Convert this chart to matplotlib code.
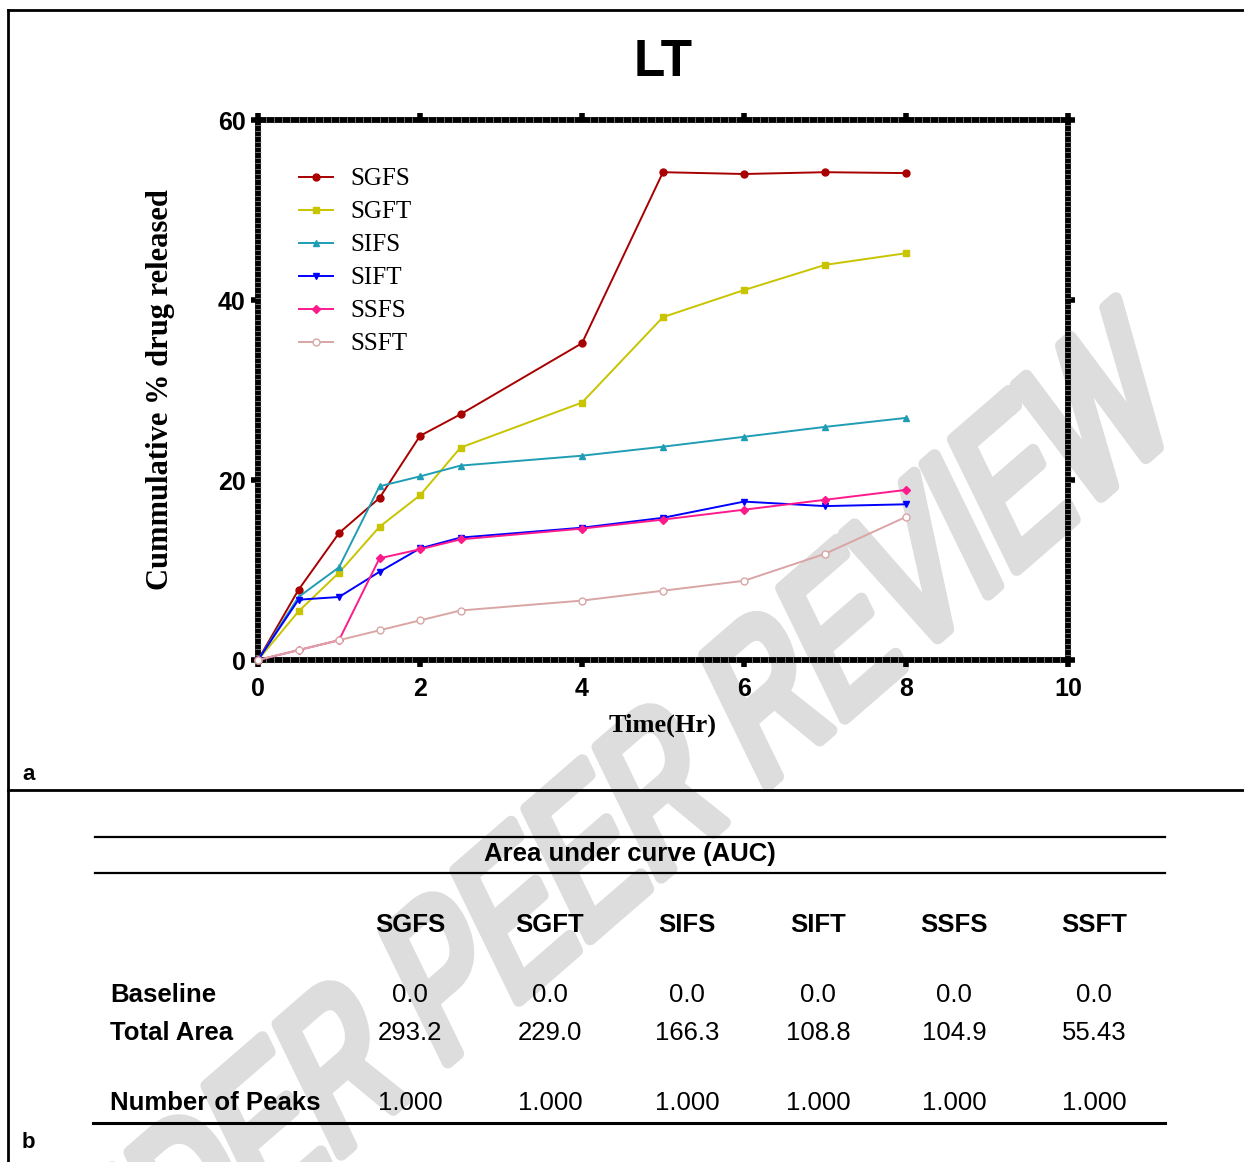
import matplotlib
matplotlib.use("Agg")
import matplotlib.pyplot as plt
from matplotlib.ticker import MultipleLocator
from matplotlib.lines import Line2D
from matplotlib.textpath import TextPath
from matplotlib.font_manager import FontProperties
from matplotlib.patches import PathPatch
from matplotlib.transforms import Affine2D, IdentityTransform

W, H = 1244, 1162

# release profile data (cumulative % drug released)
time_hr = [0, 0.5, 1, 1.5, 2, 2.5, 4, 5, 6, 7, 8]
sgfs = [0, 7.8, 14.1, 18.0, 24.9, 27.3, 35.2, 54.2, 54.0, 54.2, 54.1]
sgft = [0, 5.4, 9.7, 14.8, 18.3, 23.6, 28.6, 38.1, 41.1, 43.9, 45.2]
sifs = [0, 7.0, 10.3, 19.3, 20.4, 21.6, 22.7, 23.7, 24.8, 25.9, 26.9]
sift = [0, 6.7, 7.0, 9.8, 12.4, 13.6, 14.7, 15.8, 17.6, 17.1, 17.3]
ssfs = [0, 1.1, 2.2, 11.3, 12.3, 13.4, 14.6, 15.6, 16.7, 17.8, 18.9]
ssft = [0, 1.1, 2.2, 3.3, 4.4, 5.5, 6.6, 7.7, 8.8, 11.8, 15.9]

series_names = ["SGFS", "SGFT", "SIFS", "SIFT", "SSFS", "SSFT"]

# AUC table
row_labels = ["Baseline", "Total Area", "Number of Peaks"]
baseline = ["0.0", "0.0", "0.0", "0.0", "0.0", "0.0"]
total_area = ["293.2", "229.0", "166.3", "108.8", "104.9", "55.43"]
n_peaks = ["1.000", "1.000", "1.000", "1.000", "1.000", "1.000"]


def fx(x):
    return x / W


def fy(y):
    return 1 - y / H


fig = plt.figure(figsize=(W / 100, H / 100), dpi=100, facecolor="white")

# watermark: condensed text, rotated, then squashed sideways (scanned page look)
fp = FontProperties(family="Liberation Sans", weight="normal")
wm = TextPath((0, 0), "UNDER PEER REVIEW", size=1, prop=fp)
ext = wm.get_extents()
xw, yw = ext.x1 - 0.47, 0.36          # centre of the last letter, em units
em = 226
tr = (Affine2D().translate(-xw, -yw).scale(0.75 * em, em)
      .rotate_deg(33).scale(0.75, 1.0).translate(1096, H - 404))
fig.add_artist(PathPatch(tr.transform_path(wm), fc="#dddddd", ec="#dddddd",
                         lw=9, joinstyle="round", capstyle="round",
                         transform=IdentityTransform(), zorder=0))

# frame lines of the figure
frame_kw = dict(color="black", lw=2, transform=fig.transFigure, zorder=1)
fig.add_artist(Line2D([fx(8), fx(8)], [fy(10), 0], **frame_kw))
fig.add_artist(Line2D([fx(8), 1], [fy(10), fy(10)], **frame_kw))
fig.add_artist(Line2D([fx(8), 1], [fy(790), fy(790)], **frame_kw))

ax = fig.add_axes([fx(258), fy(660), fx(1068) - fx(258), fy(120) - fy(660)])
ax.set_facecolor("none")
ax.set_zorder(2)

styles = [
    (sgfs, "#a80000", "o", "#a80000"),
    (sgft, "#c8c400", "s", "#c8c400"),
    (sifs, "#1f9db5", "^", "#1f9db5"),
    (sift, "#0000ff", "v", "#0000ff"),
    (ssfs, "#ff1a8c", "D", "#ff1a8c"),
    (ssft, "#d9a5a5", "o", "white"),
]
for (vals, col, mk, mfc), name in zip(styles, series_names):
    ax.plot(time_hr, vals, color=col, lw=1.4, marker=mk,
            ms=5 if mk != "D" else 4.2, mfc=mfc, mec=col, mew=1.0,
            label=name, clip_on=False, zorder=3)

ax.set_xlim(0, 10)
ax.set_ylim(0, 60)
ax.xaxis.set_major_locator(MultipleLocator(2))
ax.yaxis.set_major_locator(MultipleLocator(20))
ax.xaxis.set_minor_locator(MultipleLocator(0.1))
ax.yaxis.set_minor_locator(MultipleLocator(0.6))

for sp in ax.spines.values():
    sp.set_linewidth(4.2)
    sp.set_color("black")
    sp.set_zorder(1)

ax.tick_params(which="major", direction="out", length=5, width=4,
               top=True, right=True, labelsize=18)
ax.tick_params(axis="x", which="major", pad=7)
ax.tick_params(axis="y", which="major", pad=4)
ax.tick_params(which="minor", direction="inout", length=4, width=0.5,
               color="#9a9a9a", top=True, right=True)
for lab in ax.get_xticklabels() + ax.get_yticklabels():
    lab.set_fontweight("bold")
    lab.set_family("Liberation Sans")

ax.set_xlabel("Time(Hr)", family="Liberation Serif", fontweight="bold",
              fontsize=19, labelpad=9)
ax.set_ylabel("Cummulative % drug released", family="Liberation Serif",
              fontweight="bold", fontsize=22, labelpad=31)

fig.text(fx(663), fy(62), "LT", ha="center", va="center", fontsize=37,
         fontweight="bold", family="Liberation Sans")

leg = ax.legend(loc="upper left", bbox_to_anchor=(0.038, 0.93), frameon=False,
                prop={"family": "Liberation Serif", "size": 18},
                handlelength=1.35, handletextpad=0.7, labelspacing=0.42,
                borderaxespad=0)

# panel labels
fig.text(fx(22), fy(775), "a", fontsize=16, fontweight="bold",
         family="Liberation Sans", va="center")
fig.text(fx(22), fy(1143), "b", fontsize=16, fontweight="bold",
         family="Liberation Sans", va="center")

# AUC table
tbl_kw = dict(color="black", transform=fig.transFigure)
fig.add_artist(Line2D([fx(95), fx(1165)], [fy(837), fy(837)], lw=1.6, **tbl_kw))
fig.add_artist(Line2D([fx(95), fx(1165)], [fy(873), fy(873)], lw=1.6, **tbl_kw))
fig.add_artist(Line2D([fx(93), fx(1165)], [fy(1123), fy(1123)], lw=2.2, **tbl_kw))

tfont = dict(family="Liberation Sans", fontsize=18.5, va="center")
fig.text(fx(630), fy(854), "Area under curve (AUC)", ha="center",
         fontweight="bold", **tfont)

col_x = [410, 550, 687, 818, 954, 1094]
row_y = [995, 1033, 1103]
for cx, name in zip(col_x, series_names):
    fig.text(fx(cx), fy(925), name, ha="center", fontweight="bold", **tfont)
for ry, lab in zip(row_y, row_labels):
    fig.text(fx(110), fy(ry), lab, ha="left", fontweight="bold", **tfont)
for ry, vals in zip(row_y, [baseline, total_area, n_peaks]):
    for cx, v in zip(col_x, vals):
        fig.text(fx(cx), fy(ry), v, ha="center", **tfont)

fig.savefig("out.png", dpi=100, facecolor="white")
